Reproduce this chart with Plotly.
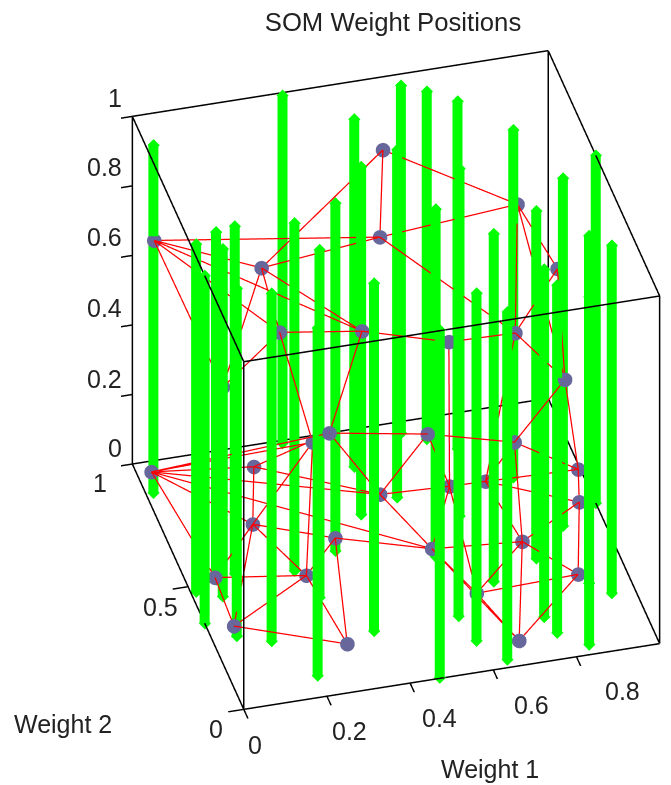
import plotly.graph_objects as go

# Input data: vertical stems (Weight 1, Weight 2), spanning the Z range
stem_x = [.018,.013,.000,.070,.068,.118,.059,.132,.358,.255,.200,.284,.367,.495,.462,.372,.560,.634,
          .686,.586,.472,.745,.681,.577,.592,.691,.642,.841,.810,.768,.781,.903,.903,.841,1.0,.944]
stem_y = [.878,.476,.351,.510,.442,.521,.283,.243,.989,.497,.084,.380,.548,.856,.671,.220,.714,.956,
          .918,.465,.003,.862,.605,.226,.121,.336,.031,.720,.398,.171,.103,.506,.272,.039,.573,.221]
stem_z0 = 0.0
stem_z1 = 1.0

# SOM weights
node_x = [.018,.231,.581,.528,.870,.894,.206,.392,.104,.576,.734,.798,.215,.445,.667,.214,
          .010,.245,.500,.664,.750,.970,.939,.184,.355,.252,.045,.038,.274,.771,.561,.863,.616,.663]
node_y = [.872,.703,.920,.749,.791,.522,.447,.402,.577,.309,.303,.096,.034,.011,.060,.181,
          .866,.824,.643,.632,.629,.619,.494,.606,.504,.379,.426,.230,.094,.378,.405,.220,.209,.003]
node_z = [.73,.73,.85,.73,.73,.73,.73,.73,.50,.73,.73,.73,.73,.70,.60,.60,
          .07,.07,.07,.07,.07,.07,.07,.07,.07,.07,.07,.07,.07,.07,.07,.07,.07,.07]

# Neighbour links between SOM weights
edge_a = [0,0,1,1,2,2,3,3,4,4,4,5,0,0,0,1,1,6,7,9,10,10,8,
          16,16,16,16,16,16,17,17,17,18,18,18,19,19,20,20,21,21,21,22,22,
          23,23,23,24,24,25,25,25,26,27,27,29,29,29,29,30,30,31,31,32,19,20,
          12,12,12,13,14,14,7,9,6,10,3,11,
          16,25,24,23,29,19,1]
edge_b = [3,1,2,3,3,4,4,10,5,10,11,11,6,8,7,6,7,7,9,10,5,11,6,
          17,23,26,18,12,15,23,12,18,19,13,30,20,13,21,29,22,11,14,29,31,
          24,25,26,25,30,26,27,28,27,28,23,30,31,32,33,32,33,33,32,33,30,22,
          15,18,13,14,20,21,12,19,15,20,10,14,
          30,15,28,15,14,32,8]

x_ticks = [0, .2, .4, .6, .8]
y_ticks = [0, .5, 1]
z_ticks = [0, .2, .4, .6, .8, 1]
x_labels = ["0", "0.2", "0.4", "0.6", "0.8"]
y_labels = ["0", "0.5", "1"]
z_labels = ["0", "0.2", "0.4", "0.6", "0.8", "1"]
axis_lo, axis_hi = 0, 1
title_text = "SOM Weight Positions"
x_title, y_title = "Weight 1", "Weight 2"

PAGE_W, PAGE_H = 671, 785
FONT = dict(family="Liberation Sans", size=25, color="#222222")

# page positions of the label text
x_label_pos = [(255, 745), (349, 731), (440, 718), (531, 705), (622, 691)]
y_label_pos = [(216, 729), (160, 607), (100, 483)]
z_label_pos = [(115, 448), (104, 379), (104, 308), (104, 237), (104, 167), (115, 98)]

sx, sy, sz = [], [], []
for a, b in zip(stem_x, stem_y):
    sx += [a, a, None]; sy += [b, b, None]; sz += [stem_z0, stem_z1, None]
ex, ey, ez = [], [], []
for a, b in zip(edge_a, edge_b):
    ex += [node_x[a], node_x[b], None]
    ey += [node_y[a], node_y[b], None]
    ez += [node_z[a], node_z[b], None]

# Axes box from the axis limits
bx, by, bz = [], [], []
L, H = axis_lo, axis_hi
for p in (L, H):
    for q in (L, H):
        bx += [L, H, None, p, p, None, p, p, None]
        by += [p, p, None, L, H, None, q, q, None]
        bz += [q, q, None, q, q, None, L, H, None]

fig = go.Figure()
fig.add_trace(go.Scatter3d(x=sx, y=sy, z=sz, mode="lines+markers", showlegend=False, hoverinfo="skip",
                           line=dict(color="#00ff00", width=20),
                           marker=dict(color="#00ff00", size=4, symbol="diamond")))
fig.add_trace(go.Scatter3d(x=ex, y=ey, z=ez, mode="lines", showlegend=False, hoverinfo="skip",
                           line=dict(color="#ff0000", width=2.5)))
fig.add_trace(go.Scatter3d(x=node_x, y=node_y, z=node_z, mode="markers", showlegend=False,
                           marker=dict(color="#67679c", size=8.5, symbol="circle")))
fig.add_trace(go.Scatter3d(x=bx, y=by, z=bz, mode="lines", showlegend=False, hoverinfo="skip",
                           line=dict(color="#000000", width=3)))

def axis(ticks):
    return dict(range=[axis_lo, axis_hi], tickmode="array", tickvals=ticks, showticklabels=False,
                showbackground=False, showgrid=False, zeroline=False, showline=False,
                ticks="outside", ticklen=16, tickcolor="#000000", tickwidth=3, title=dict(text=""),
                showspikes=False)

def label(text, pos):
    return dict(text=text, x=pos[0]/PAGE_W, y=1-pos[1]/PAGE_H, xref="paper", yref="paper",
                showarrow=False, xanchor="center", yanchor="middle", font=FONT)

notes = [label(x_title, (490, 769)), label(y_title, (63, 724))]
notes += [label(t, p) for t, p in zip(x_labels, x_label_pos)]
notes += [label(t, p) for t, p in zip(y_labels, y_label_pos)]
notes += [label(t, p) for t, p in zip(z_labels, z_label_pos)]

A = 1.133
fig.update_layout(
    width=PAGE_W, height=PAGE_H, margin=dict(l=0, r=0, t=0, b=0),
    paper_bgcolor="white", showlegend=False, font=FONT,
    title=dict(text=title_text, x=393/PAGE_W, xanchor="center", y=1-22/PAGE_H, yanchor="middle",
               font=dict(family="Liberation Sans", size=25.7, color="#222222")),
    annotations=notes,
    scene=dict(
        domain=dict(x=[121/PAGE_W, 1], y=[1-760/PAGE_H, 1]),
        xaxis=axis(x_ticks), yaxis=axis(y_ticks), zaxis=axis(z_ticks),
        aspectmode="manual", aspectratio=dict(x=A, y=A, z=A),
        camera=dict(eye=dict(x=-.209*1.6, y=-.780*1.6, z=.59*1.6), up=dict(x=0, y=0, z=1),
                    center=dict(x=0, y=0, z=0), projection=dict(type="orthographic")),
    ),
)
fig.write_html("out.html", config=dict(displayModeBar=False),
               post_script="document.body.style.margin='0';document.documentElement.style.overflow='hidden';")
